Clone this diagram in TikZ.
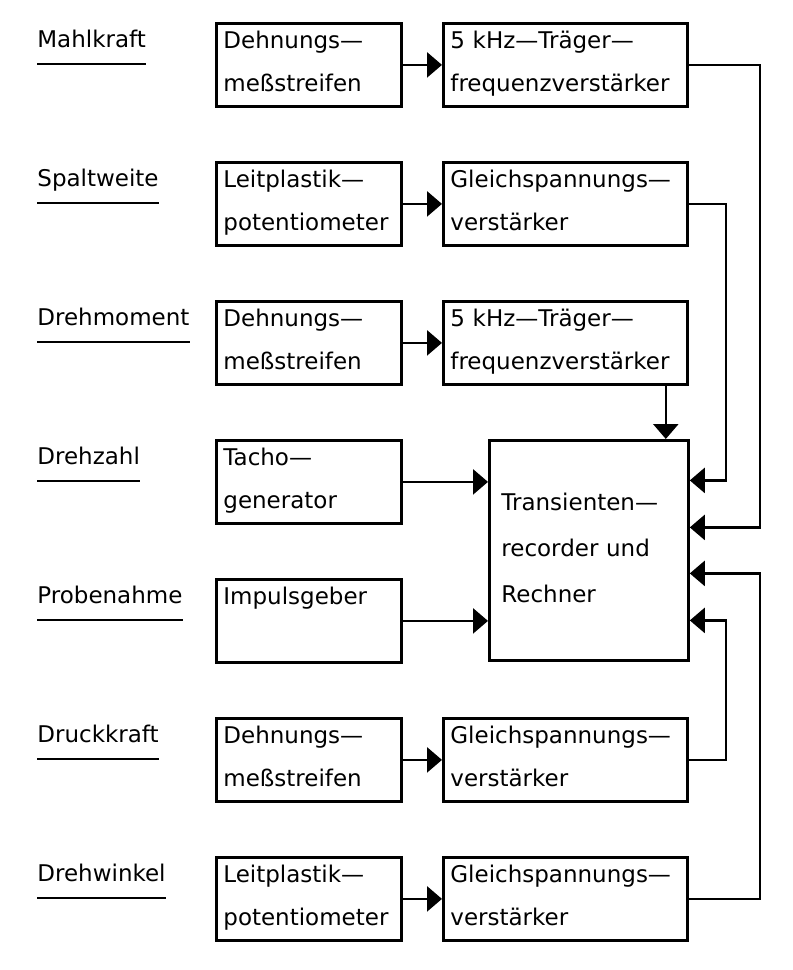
\documentclass[tikz,border=0pt]{standalone}
\usepackage{fontspec}
\setmainfont{DejaVu Sans}
\usetikzlibrary{positioning,arrows.meta}

\begin{document}
\begin{tikzpicture}[
    font=\fontsize{11.5pt}{21.5pt}\selectfont,
    lbl/.style={anchor=base west, inner sep=0pt},
    uline/.style={line width=1.2pt},
    geber/.style={draw, line width=1.4pt, anchor=north west, align=left,
      inner xsep=3.5pt, inner ysep=0pt, text width=85.5pt,
      text height=12.5pt, text depth=29pt},
    verst/.style={geber, text width=115pt},
    rechner/.style={draw, line width=1.4pt, align=left, inner xsep=6pt,
      inner ysep=0pt, text width=87.5pt, text height=35pt, text depth=75pt,
      font=\fontsize{11.5pt}{23pt}\selectfont},
    wire/.style={line width=1.3pt},
    conn/.style={wire, -{Triangle[length=7.5pt,width=12.5pt]}}
  ]
  \useasboundingbox (0,0) rectangle (396.5pt,-485pt);

  % Messgroessen
  \node[lbl] (mahl)  at (18.5pt,-23.5pt)  {Mahlkraft};
  \node[lbl] (spalt) at (18.5pt,-93pt)    {Spaltweite};
  \node[lbl] (drehm) at (18.5pt,-162.5pt) {Drehmoment};
  \node[lbl] (drehz) at (18.5pt,-232pt)   {Drehzahl};
  \node[lbl] (probe) at (18.5pt,-301.5pt) {Probenahme};
  \node[lbl] (druck) at (18.5pt,-371pt)   {Druckkraft};
  \node[lbl] (drehw) at (18.5pt,-440.5pt) {Drehwinkel};

  \draw[uline] ([yshift=-8.5pt]mahl.base west)  -- ([yshift=-8.5pt]mahl.base east);
  \draw[uline] ([yshift=-8.5pt]spalt.base west) -- ([yshift=-8.5pt]spalt.base east);
  \draw[uline] ([yshift=-8.5pt]drehm.base west) -- ([yshift=-8.5pt]drehm.base east);
  \draw[uline] ([yshift=-8.5pt]drehz.base west) -- ([yshift=-8.5pt]drehz.base east);
  \draw[uline] ([yshift=-8.5pt]probe.base west) -- ([yshift=-8.5pt]probe.base east);
  \draw[uline] ([yshift=-8.5pt]druck.base west) -- ([yshift=-8.5pt]druck.base east);
  \draw[uline] ([yshift=-8.5pt]drehw.base west) -- ([yshift=-8.5pt]drehw.base east);

  % Geber
  \node[geber] (dms1) at (107.5pt,-11pt) {Dehnungs---\\meßstreifen};
  \node[geber, below=26.6pt of dms1] (lpp1) {Leitplastik---\\potentiometer};
  \node[geber, below=26.6pt of lpp1] (dms2) {Dehnungs---\\meßstreifen};
  \node[geber, below=26.6pt of dms2] (tacho) {Tacho---\\generator};
  \node[geber, below=26.6pt of tacho] (impuls) {Impulsgeber\\\mbox{}};
  \node[geber, below=26.6pt of impuls] (dms3) {Dehnungs---\\meßstreifen};
  \node[geber, below=26.6pt of dms3] (lpp2) {Leitplastik---\\potentiometer};

  % Verstaerker
  \node[verst, right=19.6pt of dms1] (tfv1) {5 kHz---Träger---\\frequenzverstärker};
  \node[verst, right=19.6pt of lpp1] (gsv1) {Gleichspannungs---\\verstärker};
  \node[verst, right=19.6pt of dms2] (tfv2) {5 kHz---Träger---\\frequenzverstärker};
  \node[verst, right=19.6pt of dms3] (gsv2) {Gleichspannungs---\\verstärker};
  \node[verst, right=19.6pt of lpp2] (gsv3) {Gleichspannungs---\\verstärker};

  \node[rechner, right=42.6pt of tacho.north east, anchor=north west] (trr)
    {Transienten---\\recorder und\\Rechner};

  %geber>verst
  \draw[conn] (dms1) -- (tfv1);
  \draw[conn] (lpp1) -- (gsv1);
  \draw[conn] (dms2) -- (tfv2);
  \draw[conn] (dms3) -- (gsv2);
  \draw[conn] (lpp2) -- (gsv3);

  %>rechner
  \draw[conn] (tacho) -- (tacho -| trr.west);
  \draw[conn] (impuls) -- (impuls -| trr.west);
  \coordinate (tfv2ab) at ([xshift=-11.5pt]tfv2.south east);
  \draw[conn] (tfv2ab) -- (tfv2ab |- trr.north);
  \draw[conn] (gsv1.east) -- ++(18.5pt,0) |- ([yshift=35pt]trr.east);
  \draw[conn] (tfv1.east) -- ++(35.5pt,0) |- ([yshift=11.5pt]trr.east);
  \draw[conn] (gsv3.east) -- ++(35.5pt,0) |- ([yshift=-11.5pt]trr.east);
  \draw[conn] (gsv2.east) -- ++(18.5pt,0) |- ([yshift=-35pt]trr.east);
\end{tikzpicture}
\end{document}
